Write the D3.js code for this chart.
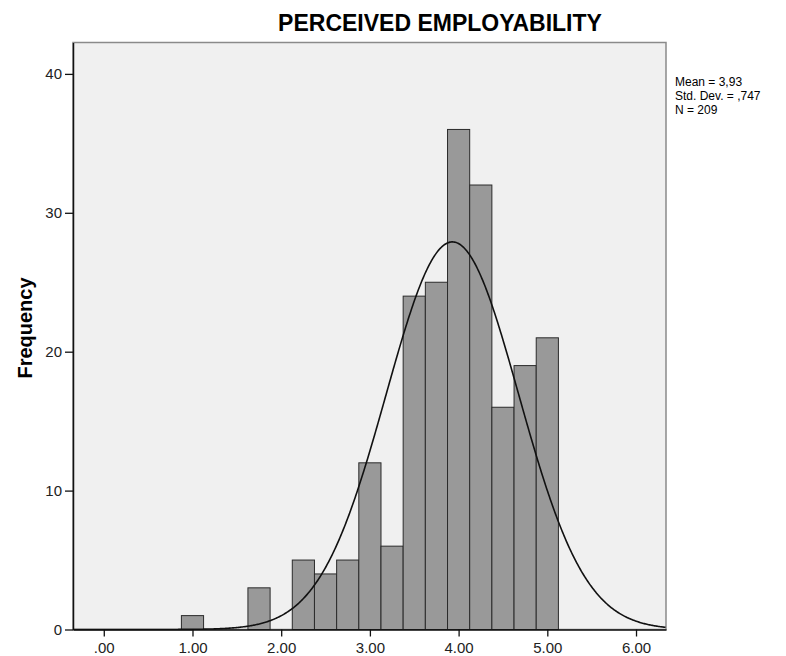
<!DOCTYPE html>
<html>
<head>
<meta charset="utf-8">
<script src="https://cdn.jsdelivr.net/npm/d3@7"></script>
<style>
  html, body { margin: 0; padding: 0; background: #ffffff; }
  svg { display: block; font-family: "Liberation Sans", Arial, sans-serif; }
</style>
</head>
<body>
<svg id="chart" width="786" height="656"></svg>
<script>
// ---- data ----
const binCenters = [1.00, 1.75, 2.25, 2.50, 2.75, 3.00, 3.25, 3.50, 3.75, 4.00, 4.25, 4.50, 4.75, 5.00];
const counts     = [1,    3,    5,    4,    5,    12,   6,    24,   25,   36,   32,   16,   19,   21];
const binWidth = 0.25;
const xTickValues = [0, 1, 2, 3, 4, 5, 6];
const xTickLabels = [".00", "1.00", "2.00", "3.00", "4.00", "5.00", "6.00"];
const yTickValues = [0, 10, 20, 30, 40];
const statMean = 3.93, statSd = 0.747, statN = 209;
const statLines = ["Mean = 3,93", "Std. Dev. = ,747", "N = 209"];
const title = "PERCEIVED EMPLOYABILITY";
const yTitle = "Frequency";

// ---- layout ----
const svg = d3.select("#chart");
const L = 73, R = 666, T = 42.5, B = 629.5;
const x = d3.scaleLinear().domain([-0.347, 6.338]).range([L, R]);
const y = d3.scaleLinear().domain([0, 42.26]).range([B, T]);

// plot background
svg.append("rect").attr("x", L).attr("y", T).attr("width", R - L).attr("height", B - T)
  .attr("fill", "#f0f0f0").attr("stroke", "#8a8a8a").attr("stroke-width", 1.5);

// bars
svg.append("g").selectAll("rect").data(binCenters.map((c, i) => ({c, n: counts[i]})))
  .join("rect")
  .attr("x", d => x(d.c - binWidth / 2))
  .attr("width", d => x(d.c + binWidth / 2) - x(d.c - binWidth / 2))
  .attr("y", d => y(d.n))
  .attr("height", d => y(0) - y(d.n))
  .attr("fill", "#999999")
  .attr("stroke", "#2b2b2b")
  .attr("stroke-width", 1);

// normal curve from reported statistics
const xs = d3.range(x.domain()[0], x.domain()[1] + 0.001, 0.01);
const scaleK = statN * binWidth / (statSd * Math.sqrt(2 * Math.PI));
const curve = xs.map(v => [v, scaleK * Math.exp(-0.5 * Math.pow((v - statMean) / statSd, 2))]);
svg.append("path").datum(curve)
  .attr("d", d3.line().x(d => x(d[0])).y(d => y(d[1])))
  .attr("fill", "none").attr("stroke", "#111").attr("stroke-width", 1.6);

// axes
const xAxis = d3.axisBottom(x).tickValues(xTickValues)
  .tickFormat((d, i) => xTickLabels[i]).tickSize(7).tickSizeOuter(0).tickPadding(6);
const gx = svg.append("g").attr("transform", `translate(0,${B})`).call(xAxis);
gx.select(".domain").attr("stroke", "#111").attr("stroke-width", 1.5);
gx.selectAll(".tick line").attr("stroke", "#111").attr("stroke-width", 1.3);
gx.selectAll(".tick text").attr("font-size", 15).attr("fill", "#222")
  .attr("font-family", "Liberation Sans, Arial, sans-serif");

const yAxis = d3.axisLeft(y).tickValues(yTickValues).tickSize(8).tickSizeOuter(0).tickPadding(3);
const gy = svg.append("g").attr("transform", `translate(${L},0)`).call(yAxis);
gy.select(".domain").attr("stroke", "#111").attr("stroke-width", 1.5);
gy.selectAll(".tick line").attr("stroke", "#111").attr("stroke-width", 1.3);
gy.selectAll(".tick text").attr("font-size", 15).attr("fill", "#222")
  .attr("font-family", "Liberation Sans, Arial, sans-serif");

// title
svg.append("text").attr("x", 440).attr("y", 31).attr("text-anchor", "middle")
  .attr("font-size", 23).attr("font-weight", "bold").attr("fill", "#000").text(title);

// y title
svg.append("text").attr("transform", `translate(32,${(T + B) / 2 - 8}) rotate(-90)`)
  .attr("text-anchor", "middle").attr("font-size", 20).attr("font-weight", "bold")
  .attr("fill", "#000").text(yTitle);

// stats
svg.append("g").selectAll("text").data(statLines).join("text")
  .attr("x", 675).attr("y", (d, i) => 86 + i * 14)
  .attr("font-size", 12).attr("fill", "#000").text(d => d);
</script>
</body>
</html>
